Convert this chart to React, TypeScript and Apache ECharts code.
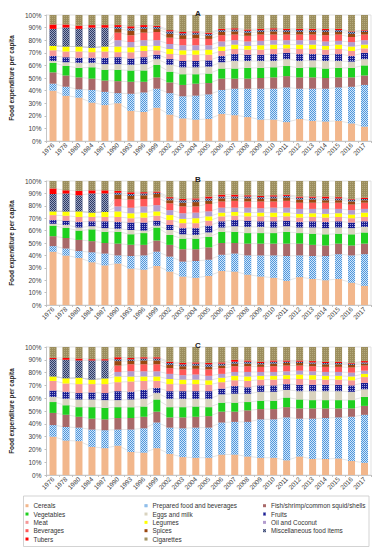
import React, { useEffect, useRef } from "react";
import * as echarts from "echarts";

const years = ["1976","1978","1980","1984","1987","1990","1993","1996","1999","2002","2003","2004","2005","2006","2007","2008","2009","2010","2011","2012","2013","2014","2015","2016","2017"];

const seriesNames = [
  "Cereals","Prepared food and beverages","Fish/shrimp/common squid/shells",
  "Vegetables","Eggs and milk","Fruits",
  "Meat","Legumes","Oil and Coconut",
  "Beverages","Spices","Miscellaneous food items",
  "Tubers","Cigarettes",
];

const panelTitles = ["A", "B", "C"];

// rows = years, columns = seriesNames order (percent)
const panelA: number[][] = [
  [40, 5.5, 9, 7.5, 1.5, 4, 4.5, 3.5, 0, 0, 0, 13.5, 3.5, 7.5],
  [36, 7, 9, 7.5, 3, 4, 4.5, 4, 0, 0, 0, 15, 2.5, 7.5],
  [34.5, 6.5, 9.5, 7.5, 4, 4, 5, 4, 0, 0, 0, 14, 2.5, 8.5],
  [30.5, 10, 9, 9, 3.5, 4, 4.5, 3.5, 0, 0, 0, 16, 2, 8],
  [28.5, 10.5, 9, 8.5, 4.5, 5, 5, 4, 0, 0, 0, 15, 2, 8],
  [30, 8, 9.5, 9, 4.5, 5.5, 4, 4.5, 5, 6, 3, 1.5, 1.5, 8],
  [24, 13.5, 9.5, 9, 4.5, 5, 5, 4, 4, 5.5, 3.5, 2, 1.5, 9],
  [23, 15.5, 8.5, 9, 5, 5.5, 5, 4, 4.5, 6, 3, 1.5, 1.5, 8],
  [26.5, 15, 9, 10, 4.5, 3.5, 3.5, 3.5, 4.5, 6.5, 2.5, 1.5, 1, 8.5],
  [21, 17, 8.5, 8.5, 5.5, 4.5, 4, 4, 4, 5, 3, 2, 1, 12],
  [18, 17.5, 9, 8.5, 5.5, 5, 5, 3.5, 4, 5, 3, 1.5, 1, 13.5],
  [17, 19, 9.5, 7.5, 5.5, 5, 5, 3.5, 4, 5.5, 3, 1.5, 1, 13],
  [17.5, 19.5, 9, 7.5, 5.5, 5, 4.5, 4, 3.5, 5, 2.5, 1.5, 1, 14],
  [21.5, 19, 9, 8, 5, 5, 4, 3.5, 4, 5, 2.5, 1.5, 1, 11],
  [20.5, 21, 8, 8, 6, 5.5, 4, 3.5, 3.5, 4.5, 2.5, 1.5, 1, 10.5],
  [19, 22.5, 8, 8.5, 5.5, 5, 4, 3, 3.5, 4.5, 2.5, 1.5, 1, 11.5],
  [17, 24.5, 8.5, 8, 5.5, 5, 4, 3.5, 3.5, 5, 2, 1.5, 1, 11],
  [17, 24.5, 9, 8, 5, 5.5, 4, 3.5, 3.5, 4.5, 2.5, 1.5, 1, 10.5],
  [15, 27.5, 9, 8, 5.5, 5, 3.5, 3, 3.5, 4.5, 2, 1.5, 1, 11],
  [17.5, 24, 9, 7.5, 5.5, 5.5, 4, 3.5, 3.5, 4.5, 2, 1.5, 1, 11],
  [16, 25.5, 9, 8, 5.5, 5, 4, 3.5, 3.5, 4.5, 2, 1.5, 1, 11],
  [15.5, 26, 8.5, 7.5, 6, 5, 4, 3, 3.5, 5, 2.5, 1.5, 1, 11],
  [16, 26.5, 8, 7.5, 5.5, 5.5, 4, 3.5, 3, 5, 2, 1.5, 1, 11],
  [14, 29, 7.5, 7.5, 5, 4.5, 4, 3.5, 3.5, 4, 2.5, 1.5, 0.5, 13],
  [11.5, 33, 7.5, 8, 5, 5, 3.5, 3, 3.5, 4.5, 2, 1, 0.5, 12],
];

const panelB: number[][] = [
  [43, 4.5, 8, 8.5, 1.5, 3, 4, 3, 0, 0, 0, 14, 4.5, 6],
  [40, 5.5, 8.5, 8, 2.5, 3.5, 4, 3.5, 0, 0, 0, 14.5, 2.5, 7.5],
  [38, 5.5, 9, 7.5, 2.5, 4.5, 4, 4.5, 0, 0, 0, 13, 3.5, 8],
  [34.5, 8, 9, 9.5, 2.5, 4, 3.5, 3.5, 0, 0, 0, 15.5, 2.5, 7.5],
  [32, 9.5, 8.5, 9, 3, 5.5, 3.5, 4, 0, 0, 0, 15, 2.5, 7.5],
  [33.5, 6.5, 9.5, 9.5, 2.5, 5.5, 4, 4.5, 4, 6, 3.5, 1.5, 1.5, 8],
  [29.5, 10, 9, 8.5, 3.5, 6, 3.5, 4, 4.5, 6.5, 3, 1.5, 1.5, 9],
  [28.5, 11.5, 8.5, 9.5, 2, 6.5, 4, 4, 5, 6, 3, 1.5, 1, 9],
  [31.5, 11.5, 9, 10.5, 1.5, 4, 4, 3.5, 5, 6, 3, 1, 1, 8.5],
  [27, 12, 9.5, 8, 4, 4, 4, 4, 4, 5.5, 2.5, 1.5, 1, 13],
  [23, 12, 10, 8.5, 3.5, 5, 4, 3.5, 4.5, 5.5, 3, 2, 1, 14.5],
  [22, 13.5, 9.5, 8.5, 3, 5.5, 4, 4, 4.5, 5, 3.5, 2, 1, 14],
  [23.5, 13, 10, 8.5, 3.5, 5.5, 4, 3.5, 4, 6, 2.5, 2, 1.5, 12.5],
  [27.5, 13, 9.5, 9, 3.5, 5, 4, 3, 4, 5, 2.5, 1.5, 1.5, 11],
  [27, 14.5, 8.5, 9, 4.5, 5, 3.5, 3, 3.5, 5.5, 2, 1.5, 1.5, 11],
  [24.5, 15.5, 9.5, 8.5, 5, 5, 3.5, 3, 4, 5, 2.5, 1.5, 1, 11.5],
  [23, 17, 9.5, 8.5, 5, 4.5, 4, 3, 3.5, 5.5, 2, 1.5, 1, 12],
  [22, 18, 9.5, 8.5, 4.5, 5, 3.5, 3.5, 4, 5, 2.5, 1.5, 1, 11.5],
  [19.5, 20, 10, 9.5, 4.5, 4.5, 3.5, 3, 4, 5.5, 2.5, 1.5, 1, 11],
  [22.5, 17.5, 9.5, 8.5, 4.5, 4.5, 3.5, 3, 4, 5, 2.5, 1.5, 1, 12.5],
  [21, 18.5, 9, 9, 5, 5, 3.5, 3, 3.5, 5, 2.5, 1.5, 1, 12.5],
  [20, 19.5, 8.5, 9, 5, 5, 3.5, 3, 4, 5, 2, 1.5, 1.5, 12.5],
  [21, 20, 8.5, 8, 5, 5, 3.5, 3, 3.5, 5, 2, 1.5, 1, 13],
  [18, 22, 8, 9, 5, 4.5, 3.5, 3, 3.5, 4.5, 2.5, 1.5, 0.5, 14.5],
  [15.5, 25.5, 8.5, 9, 4.5, 4.5, 3.5, 3.5, 3, 5, 2, 1, 1, 13.5],
];

const panelC: number[][] = [
  [30, 9, 9.5, 8.5, 4, 5, 7.5, 3.5, 0, 0, 0, 13.5, 1, 8.5],
  [27, 10.5, 9.5, 7.5, 5, 5.5, 6.5, 4, 0, 0, 0, 14.5, 1.5, 8.5],
  [26.5, 10.5, 8.5, 7.5, 6, 5, 7, 5, 0, 0, 0, 13.5, 1.5, 9],
  [22, 13.5, 8.5, 9, 6, 5.5, 6.5, 3.5, 0, 0, 0, 15, 1, 9.5],
  [21, 14, 8.5, 9, 6, 5.5, 7, 4.5, 0, 0, 0, 14, 1, 9.5],
  [23, 12.5, 9, 8.5, 5.5, 7, 7, 4.5, 3.5, 5, 3.5, 1.5, 1.5, 8],
  [18, 17.5, 9, 8.5, 6, 6, 8, 4, 4, 5.5, 2.5, 1.5, 1, 8.5],
  [17.5, 19, 9, 8, 6, 7, 7, 3.5, 4, 5.5, 3, 1.5, 1, 8],
  [21, 20, 8.5, 9.5, 5, 4, 5.5, 3.5, 4, 5.5, 3, 1.5, 1, 8],
  [16.5, 20.5, 8, 8, 6.5, 6, 5.5, 4, 4, 4.5, 2.5, 1.5, 1, 11.5],
  [14, 22.5, 8.5, 8, 6.5, 6, 5.5, 3.5, 3.5, 4.5, 2.5, 1.5, 1, 12.5],
  [13.5, 23.5, 8.5, 8, 6, 6, 5.5, 3.5, 4, 4.5, 2.5, 1.5, 1, 12],
  [13.5, 23.5, 9, 7, 6.5, 6, 5, 3.5, 3.5, 5, 2, 2, 1, 12.5],
  [16, 25, 8.5, 7, 6.5, 4.5, 5, 3.5, 3, 4.5, 2, 1.5, 1, 12],
  [16, 25.5, 8, 7, 7, 6, 4.5, 3.5, 3, 4.5, 2, 1.5, 1.5, 10],
  [14.5, 27, 9, 6.5, 6.5, 5, 5, 3.5, 3.5, 4.5, 2, 1.5, 1, 10.5],
  [13.5, 30, 8, 6.5, 7, 5, 4.5, 3, 3, 4, 2, 1, 1, 11.5],
  [13.5, 30, 8, 6.5, 7, 5, 4.5, 3, 3, 4.5, 2, 1.5, 1, 10.5],
  [11.5, 33.5, 8, 7.5, 6, 4.5, 4, 3, 3, 4.5, 2, 1, 1, 10.5],
  [14.5, 29.5, 8, 7, 6.5, 5, 4.5, 3.5, 3, 4, 2, 1, 1, 10.5],
  [12.5, 31.5, 8, 6.5, 7, 5, 4, 3.5, 3, 4, 2, 1, 1, 11],
  [12.5, 32, 7.5, 6.5, 7, 5, 4, 3, 3, 4, 2, 1, 1, 11.5],
  [13, 32, 7, 6.5, 7, 5, 4, 3, 3, 4, 2, 1, 1, 11.5],
  [11, 34.5, 6.5, 6.5, 6.5, 5, 4, 3, 3, 4, 2, 1, 0.5, 12.5],
  [9.5, 37.5, 7, 7, 6, 5, 4.5, 2.5, 2.5, 4, 1.5, 1, 1, 11],
];

const yTickValues = [0, 10, 20, 30, 40, 50, 60, 70, 80, 90, 100];

const FONT = "'Liberation Sans', Arial, sans-serif";

const colors = [
  "#F2B78C", "#4E97DE", "#A96969", "#1FD01F", "#D9D3BF", "#1B1E94",
  "#F59898", "#FFFF00", "#B39DCF", "#FF5858", "#9A470F", "#2E3B68",
  "#FF0000", "#9C8E5E",
];

const checker = (c: string) => ({
  symbol: "rect",
  symbolSize: 1,
  dashArrayX: [[1, 1], [0, 1, 1, 0]],
  dashArrayY: [1, 0],
  color: c,
});

const dots = (c: string) => ({
  symbol: "rect",
  symbolSize: 1,
  dashArrayX: [1, 1],
  dashArrayY: [1, 1],
  color: c,
});

const decals: any[] = [
  null,
  checker("rgba(255,255,255,0.75)"),
  null,
  null,
  null,
  dots("rgba(255,255,255,0.6)"),
  null,
  null,
  null,
  null,
  null,
  checker("rgba(225,230,245,0.6)"),
  null,
  dots("rgba(200,190,145,0.55)"),
];

const layout = [
  { top: 15, height: 126, data: panelA },
  { top: 181, height: 124, data: panelB },
  { top: 347, height: 128, data: panelC },
];

export default function App() {
  const ref = useRef<HTMLDivElement>(null);

  useEffect(() => {
    if (!ref.current) return;
    const chart = echarts.init(ref.current, undefined, { renderer: "svg" });

    const grids: any[] = [];
    const xAxes: any[] = [];
    const yAxes: any[] = [];
    const series: any[] = [];
    const titles: any[] = [];

    layout.forEach((p, pi) => {
      grids.push({
        left: 37, right: 12, top: p.top, height: p.height,
        show: true, borderColor: "#d9d9d9", borderWidth: 0.8, backgroundColor: "transparent",
      });
      xAxes.push({
        type: "category", gridIndex: pi, data: years,
        axisLine: { lineStyle: { color: "#bfbfbf", width: 0.8 } },
        axisTick: { show: true, length: 2, lineStyle: { color: "#bfbfbf" } },
        axisLabel: { interval: 0, rotate: 45, fontSize: 6.5, color: "#404040", fontFamily: FONT, margin: 3 },
      });
      yAxes.push({
        type: "value", gridIndex: pi, min: 0, max: 100, interval: 10,
        name: "Food expenditure per capita", nameLocation: "middle", nameGap: 19, nameRotate: 90,
        nameTextStyle: { fontSize: 6.4, fontWeight: "bold", color: "#222", fontFamily: FONT },
        axisLine: { show: true, lineStyle: { color: "#bfbfbf", width: 0.8 } },
        axisTick: { show: true, length: 2, lineStyle: { color: "#bfbfbf" } },
        splitLine: { show: false },
        axisLabel: {
          fontSize: 6.5, color: "#404040", fontFamily: FONT, margin: 5,
          formatter: (v: number) => (yTickValues.includes(v) ? v + "%" : ""),
        },
      });
      titles.push({
        text: panelTitles[pi], left: 190, top: p.top - 11,
        textStyle: { fontSize: 8, fontWeight: "bold", color: "#222", fontFamily: FONT },
      });
      seriesNames.forEach((name, si) => {
        const vals = p.data.map((r) => r[si]);
        const itemStyle: any = { color: colors[si] };
        if (decals[si]) itemStyle.decal = decals[si];
        series.push({
          type: "bar", name, xAxisIndex: pi, yAxisIndex: pi, stack: "bar" + pi,
          data: vals, barWidth: 7, itemStyle, z: 3, emphasis: { disabled: true },
        });
        if (si < seriesNames.length - 1) {
          series.push({
            type: "line", name: "line" + pi + "_" + si, xAxisIndex: pi, yAxisIndex: pi,
            stack: "ln" + pi, data: vals, symbol: "none", silent: true, z: 1,
            lineStyle: { color: "#d4d4d4", width: 0.6 }, emphasis: { disabled: true },
          });
        }
      });
    });

    const col = (idxs: number[]) => idxs.map((i) => seriesNames[i]);
    const legendBase = {
      orient: "vertical", top: 501.7, itemWidth: 3, itemHeight: 3, itemGap: 0.33,
      itemTextGap: 3, padding: 0, icon: "rect", selectedMode: false,
      textStyle: { fontSize: 6.4, color: "#333", fontFamily: FONT, lineHeight: 8 },
    };

    chart.setOption({
      animation: false,
      backgroundColor: "#fff",
      title: titles,
      grid: grids,
      xAxis: xAxes,
      yAxis: yAxes,
      legend: [
        { ...legendBase, left: 25.5, data: col([0, 3, 6, 9, 12]) },
        { ...legendBase, left: 144.5, data: col([1, 4, 7, 10, 13]) },
        { ...legendBase, left: 263, data: col([2, 5, 8, 11]) },
      ],
      graphic: [
        {
          type: "rect", left: 21, top: 493.5, shape: { width: 345.5, height: 50.5 },
          style: { fill: "none", stroke: "#c8c8c8", lineWidth: 0.8 }, silent: true,
        },
      ],
      series,
    });

    return () => chart.dispose();
  }, []);

  return (
    <div
      ref={ref}
      style={{ position: "fixed", left: 0, top: 0, width: 383, height: 550, background: "#fff" }}
    />
  );
}
